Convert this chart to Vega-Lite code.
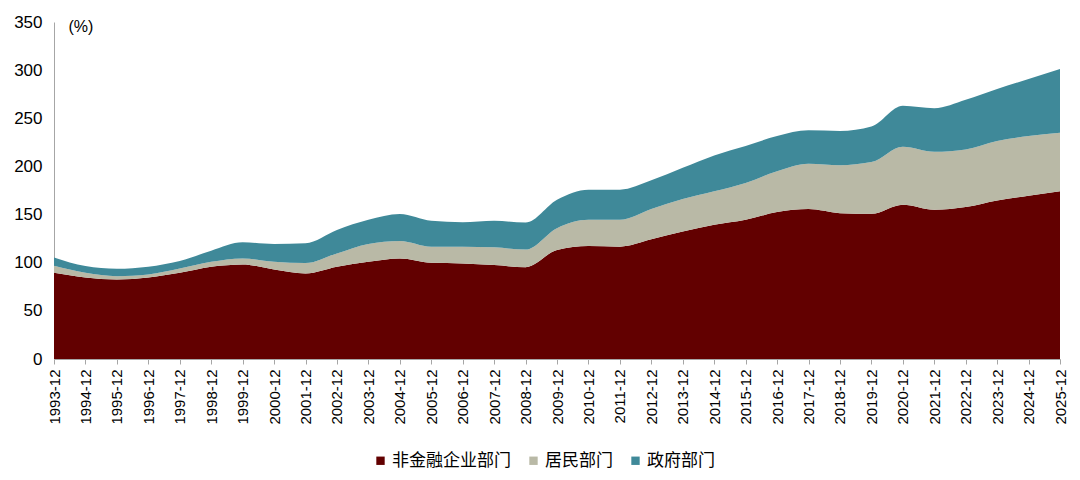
{
  "$schema": "https://vega.github.io/schema/vega-lite/v6.json",
  "description": "Stacked area of debt ratios by sector, 1993-2025.",
  "width": 1006,
  "height": 337,
  "autosize": {"type": "none"},
  "padding": {"left": 54, "top": 22, "right": 20, "bottom": 121},
  "data": {
    "values": [
      {"year": "1993-12", "corp": 89.5, "hh": 7.3, "gov": 8.7},
      {"year": "1994-12", "corp": 84.6, "hh": 4.9, "gov": 7.0},
      {"year": "1995-12", "corp": 82.5, "hh": 3.5, "gov": 7.7},
      {"year": "1996-12", "corp": 84.6, "hh": 3.2, "gov": 8.0},
      {"year": "1997-12", "corp": 89.5, "hh": 4.5, "gov": 7.7},
      {"year": "1998-12", "corp": 95.8, "hh": 5.2, "gov": 11.5},
      {"year": "1999-12", "corp": 98.2, "hh": 6.3, "gov": 16.7},
      {"year": "2000-12", "corp": 93.0, "hh": 8.0, "gov": 18.5},
      {"year": "2001-12", "corp": 88.8, "hh": 10.8, "gov": 20.6},
      {"year": "2002-12", "corp": 95.8, "hh": 13.9, "gov": 24.3},
      {"year": "2003-12", "corp": 101.0, "hh": 18.5, "gov": 25.0},
      {"year": "2004-12", "corp": 104.5, "hh": 18.1, "gov": 27.9},
      {"year": "2005-12", "corp": 100.0, "hh": 16.7, "gov": 26.8},
      {"year": "2006-12", "corp": 99.3, "hh": 17.4, "gov": 25.3},
      {"year": "2007-12", "corp": 97.5, "hh": 18.5, "gov": 27.5},
      {"year": "2008-12", "corp": 95.4, "hh": 18.2, "gov": 28.1},
      {"year": "2009-12", "corp": 113.2, "hh": 22.6, "gov": 29.6},
      {"year": "2010-12", "corp": 117.4, "hh": 27.1, "gov": 31.4},
      {"year": "2011-12", "corp": 116.7, "hh": 27.8, "gov": 31.4},
      {"year": "2012-12", "corp": 124.3, "hh": 31.4, "gov": 29.9},
      {"year": "2013-12", "corp": 132.4, "hh": 33.7, "gov": 32.4},
      {"year": "2014-12", "corp": 139.3, "hh": 34.9, "gov": 37.2},
      {"year": "2015-12", "corp": 144.5, "hh": 38.4, "gov": 38.3},
      {"year": "2016-12", "corp": 152.6, "hh": 42.4, "gov": 36.6},
      {"year": "2017-12", "corp": 155.7, "hh": 47.0, "gov": 34.8},
      {"year": "2018-12", "corp": 151.5, "hh": 49.8, "gov": 35.5},
      {"year": "2019-12", "corp": 150.8, "hh": 53.7, "gov": 36.9},
      {"year": "2020-12", "corp": 160.2, "hh": 60.3, "gov": 42.5},
      {"year": "2021-12", "corp": 155.0, "hh": 60.3, "gov": 45.2},
      {"year": "2022-12", "corp": 157.8, "hh": 59.9, "gov": 51.5},
      {"year": "2023-12", "corp": 164.7, "hh": 61.7, "gov": 54.0},
      {"year": "2024-12", "corp": 169.6, "hh": 62.0, "gov": 59.2},
      {"year": "2025-12", "corp": 174.2, "hh": 60.9, "gov": 66.2}
    ]
  },
  "transform": [
    {"fold": ["corp", "hh", "gov"], "as": ["key", "value"]},
    {"lookup": "key", "from": {"data": {"values": [
      {"key": "corp", "sector": "非金融企业部门", "rank": 1},
      {"key": "hh", "sector": "居民部门", "rank": 2},
      {"key": "gov", "sector": "政府部门", "rank": 3}
    ]}, "key": "key", "fields": ["sector", "rank"]}}
  ],
  "mark": {"type": "area", "interpolate": "monotone"},
  "encoding": {
    "x": {
      "field": "year",
      "type": "ordinal",
      "scale": {"type": "point", "padding": 0},
      "axis": {
        "title": null,
        "labelAngle": -90,
        "labelFontSize": 15,
        "labelPadding": 5,
        "tickSize": 5
      }
    },
    "y": {
      "field": "value",
      "type": "quantitative",
      "stack": "zero",
      "scale": {"domain": [0, 350]},
      "axis": {
        "values": [0, 50, 100, 150, 200, 250, 300, 350],
        "title": "(%)",
        "titleAngle": 0,
        "titleAlign": "left",
        "titleBaseline": "middle",
        "titleX": 14,
        "titleY": 4,
        "titleFontSize": 16,
        "titleFontWeight": "normal",
        "ticks": false,
        "labelFontSize": 17,
        "labelPadding": 12
      }
    },
    "color": {
      "field": "sector",
      "type": "nominal",
      "sort": ["非金融企业部门", "居民部门", "政府部门"],
      "scale": {
        "domain": ["非金融企业部门", "居民部门", "政府部门"],
        "range": ["#620000", "#b9b9a6", "#3f8999"]
      },
      "legend": {
        "title": null,
        "orient": "none",
        "direction": "horizontal",
        "legendX": 318,
        "legendY": 430,
        "symbolType": "square",
        "symbolSize": 70,
        "symbolOpacity": 1,
        "labelFont": "Noto Sans CJK SC",
        "labelFontSize": 17,
        "labelColor": "#000000",
        "labelOffset": 3,
        "columnPadding": 14
      }
    },
    "order": {"field": "rank", "type": "quantitative", "sort": "ascending"}
  },
  "config": {
    "view": {"stroke": null},
    "font": "Liberation Sans",
    "axis": {
      "grid": false,
      "domainColor": "#a6a6a6",
      "tickColor": "#a6a6a6",
      "labelColor": "#000000",
      "titleColor": "#000000",
      "labelFont": "Liberation Sans",
      "titleFont": "Liberation Sans"
    }
  }
}
